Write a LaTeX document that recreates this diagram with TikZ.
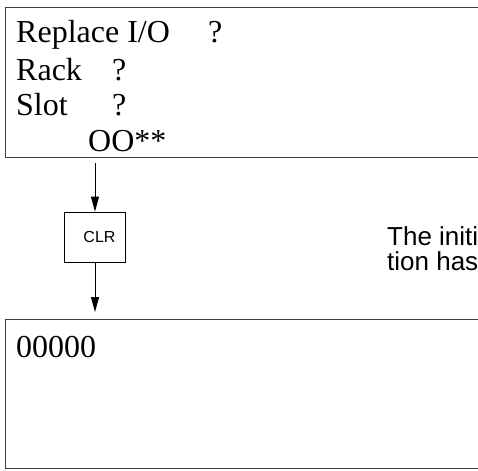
\documentclass[tikz,border=0pt]{standalone}
\usepackage{fontspec}
\setmainfont{Liberation Serif}
\setsansfont{Liberation Sans}
\usetikzlibrary{arrows.meta}
\definecolor{ScrLine}{HTML}{404040}

\tikzset{
  screen/.style={draw=ScrLine,line width=1.2pt,anchor=north west,inner sep=0pt},
  lcd/.style={anchor=base west,inner sep=0pt,font=\fontsize{32}{38}\selectfont},
  keybox/.style={draw,line width=.8pt,minimum width=61pt,minimum height=50pt,inner sep=0pt,font=\sffamily\fontsize{16}{19}\selectfont},
  flow/.style={-{Triangle[length=15pt,width=8pt]},line width=.9pt},
  note/.style={anchor=base west,inner sep=0pt,font=\sffamily\fontsize{26}{28}\selectfont}
}

\begin{document}
\begin{tikzpicture}[x=1pt,y=-1pt]
\path[use as bounding box] (0,0) rectangle (478,470);
\clip (0,0) rectangle (478,470);
% display before the key
\node[screen,minimum width=480pt,minimum height=150pt] (scrA) at (5,7) {};
\node[lcd] (rplc) at (16,43) {Replace I/O};
\node[lcd] (rplcQ) at (208,43) {?};
\node[lcd] (rack) at (16,81) {Rack};
\node[lcd] (rackQ) at (112,81) {?};
\node[lcd] (slot) at (16,116) {Slot};
\node[lcd] (slotQ) at (112,116) {?};
\node[lcd] (stat) at (88,152) {OO**};
% key
\node[keybox] (clr) at (95,237) {\hspace*{9pt}CLR};
\node[note] (noteA) at (387,245) {The initi};
\node[note] (noteB) at (387,270) {tion has};
% display after the key
\node[screen,minimum width=480pt,minimum height=149pt] (scrB) at (5,319) {};
\node[lcd] (zero) at (16,357) {00000};
\draw[flow,shorten <=5pt] (clr.north |- scrA.south) -- (clr.north);
\draw[flow,shorten >=7pt] (clr.south) -- (clr.south |- scrB.north);
\end{tikzpicture}
\end{document}
